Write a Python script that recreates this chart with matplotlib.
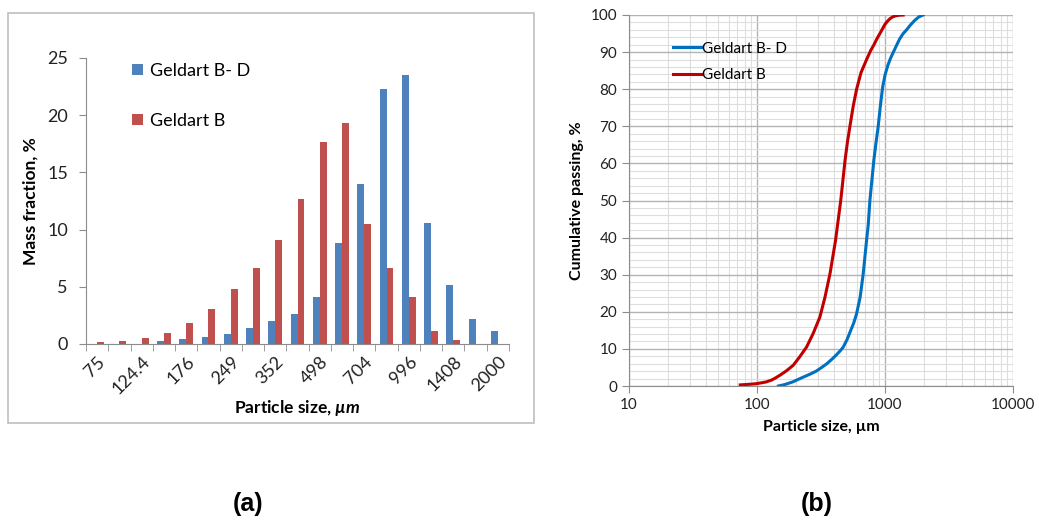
import matplotlib
matplotlib.use("Agg")
import matplotlib.pyplot as plt
from matplotlib.patches import Rectangle
from matplotlib.ticker import MultipleLocator, LogLocator, FixedLocator, NullFormatter

plt.rcParams['font.family'] = ['Lato', 'DejaVu Sans']
plt.rcParams['mathtext.fontset'] = 'custom'
plt.rcParams['mathtext.it'] = 'Lato:bold:italic'
plt.rcParams['mathtext.rm'] = 'Lato:bold'

# (a) mass fraction per size class
sizes = ["75", "104.6", "124.4", "148", "176", "209", "249", "296", "352", "419",
         "498", "592", "704", "837", "996", "1184", "1408", "1674", "2000"]
frac_bd = [0, 0, 0, 0.3, 0.4, 0.6, 0.9, 1.4, 2.0, 2.6,
           4.1, 8.8, 14.0, 22.3, 23.5, 10.6, 5.2, 2.2, 1.1]
frac_b = [0.2, 0.3, 0.5, 0.95, 1.8, 3.1, 4.85, 6.65, 9.05, 12.65,
          17.7, 19.35, 10.45, 6.65, 4.1, 1.15, 0.35, 0, 0]

# (b) cumulative passing curves
d_bd = [147, 165, 190, 230, 260, 290, 320, 351, 390, 420, 450, 472, 505, 540,
        570, 600, 640, 676, 718, 740, 762, 790, 819, 850, 885, 920, 958, 1000,
        1050, 1100, 1159, 1230, 1300, 1380, 1473, 1580, 1700, 1840, 1986]
cum_bd = [0, 0.4, 1.1, 2.4, 3.2, 4.0, 5.0, 6.0, 7.4, 8.5, 9.6, 10.5, 12.5, 15.0,
          17.0, 19.5, 24.0, 30.3, 39.3, 43.5, 50.0, 55.5, 61.0, 65.5, 70.0, 75.5,
          80.5, 83.8, 86.3, 88.2, 89.9, 91.8, 93.5, 94.9, 96.0, 97.3, 98.5, 99.5, 100]
d_b = [74, 82, 90, 98, 106, 118, 130, 140, 151, 170, 192, 215, 244, 275, 310,
       340, 372, 411, 451, 488, 510, 532, 565, 600, 650, 718, 770, 820, 865,
       912, 960, 1000, 1045, 1092, 1150, 1220, 1300, 1387]
cum_b = [0.3, 0.4, 0.5, 0.6, 0.8, 1.1, 1.6, 2.2, 2.9, 4.1, 5.6, 7.8, 10.5, 14.2,
         18.6, 24.0, 30.3, 39.3, 50.0, 61.0, 66.0, 70.0, 75.5, 80.0, 84.5,
         88.0, 90.3, 92.0, 93.6, 95.0, 96.4, 97.5, 98.3, 99.0, 99.5, 99.8, 99.95, 100]

W, H = 1039, 527
fig = plt.figure(figsize=(W / 100, H / 100), dpi=100)

# frame around panel (a)
fig.patches.append(Rectangle((8 / W, 1 - 423 / H), 526 / W, 410 / H, transform=fig.transFigure,
                             fill=False, edgecolor='#bfbfbf', linewidth=1.2))

ax1 = fig.add_axes([86 / W, 1 - 344 / H, 423 / W, 286 / H])
x = list(range(len(sizes)))
bw = 0.31
ax1.bar([i - bw / 2 for i in x], frac_bd, width=bw, color='#4F81BD', label='Geldart B- D')
ax1.bar([i + bw / 2 for i in x], frac_b, width=bw, color='#C0504D', label='Geldart B')
ax1.set_xlim(-0.5, len(sizes) - 0.5)
ax1.set_ylim(0, 25)
ax1.yaxis.set_major_locator(MultipleLocator(5))
ax1.xaxis.set_major_locator(FixedLocator(x[::2]))
ax1.set_xticklabels(sizes[::2], rotation=45, ha='right', rotation_mode='anchor')
ax1.xaxis.set_minor_locator(FixedLocator([i - 0.5 for i in range(len(sizes) + 1)]))
ax1.tick_params(axis='x', which='major', length=0, labelsize=13, colors='#222222', pad=7)
ax1.tick_params(axis='x', which='minor', length=5, color='#8c8c8c', direction='out')
ax1.tick_params(axis='y', length=5, color='#8c8c8c', labelsize=13, labelcolor='#222222', pad=8)
for s in ['top', 'right']:
    ax1.spines[s].set_visible(False)
for s in ['left', 'bottom']:
    ax1.spines[s].set_color('#8c8c8c')
ax1.set_ylabel('Mass fraction, %', fontsize=12.5, fontweight='bold', labelpad=6)
ax1.set_xlabel(r'Particle size, $\mathit{µm}$', fontsize=12.5, fontweight='bold', labelpad=0)
ax1.legend(loc='upper left', bbox_to_anchor=(0.07, 1.04), frameon=False, fontsize=13,
           handlelength=0.6, handleheight=0.6, handletextpad=0.4, labelspacing=1.9)

ax2 = fig.add_axes([629 / W, 1 - 386 / H, 384 / W, 371 / H])
ax2.plot(d_bd, cum_bd, color='#0070C0', linewidth=2.2, label='Geldart B- D')
ax2.plot(d_b, cum_b, color='#C00000', linewidth=2.2, label='Geldart B')
ax2.set_xscale('log')
ax2.set_xlim(10, 10000)
ax2.set_ylim(0, 100)
ax2.yaxis.set_major_locator(MultipleLocator(10))
ax2.yaxis.set_minor_locator(MultipleLocator(2))
ax2.xaxis.set_major_locator(LogLocator(base=10))
ax2.xaxis.set_minor_locator(LogLocator(base=10, subs=range(2, 10)))
ax2.xaxis.set_minor_formatter(NullFormatter())
ax2.set_xticks([10, 100, 1000, 10000])
ax2.set_xticklabels(['10', '100', '1000', '10000'])
ax2.grid(which='major', color='#b3b3b3', linewidth=1.0)
ax2.grid(which='minor', color='#dedede', linewidth=0.8)
ax2.set_axisbelow(True)
ax2.tick_params(which='major', length=5, color='#8c8c8c', labelsize=11, labelcolor='#222222')
ax2.tick_params(which='minor', length=0)
for s in ['top', 'right']:
    ax2.spines[s].set_visible(False)
for s in ['left', 'bottom']:
    ax2.spines[s].set_color('#8c8c8c')
ax2.set_ylabel('Cumulative passing, %', fontsize=11.5, fontweight='bold', labelpad=5)
ax2.set_xlabel('Particle size, µm', fontsize=11.5, fontweight='bold', labelpad=6)
ax2.legend(loc='upper left', bbox_to_anchor=(0.08, 0.965), frameon=False, fontsize=11,
           handlelength=1.8, handletextpad=0.1, labelspacing=0.8)

fig.text(248 / W, 1 - 504 / H, '(a)', fontsize=18, fontweight='bold',
         family=['Liberation Sans Narrow', 'Liberation Sans'], ha='center', va='center')
fig.text(817 / W, 1 - 504 / H, '(b)', fontsize=18, fontweight='bold',
         family=['Liberation Sans Narrow', 'Liberation Sans'], ha='center', va='center')

fig.savefig('out.png', dpi=100)
